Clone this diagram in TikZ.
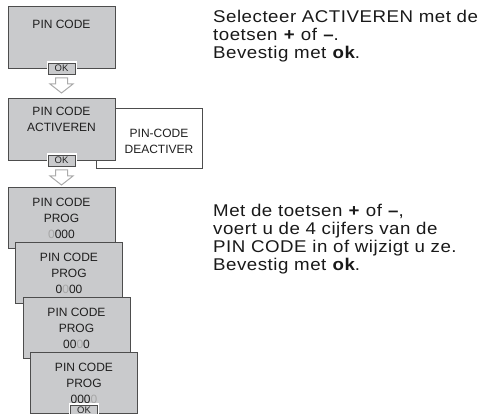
\documentclass[tikz,border=0pt]{standalone}
\usepackage{fontspec}
\setmainfont{Liberation Sans}
\newfontfamily\uitleg[FakeStretch=1.1,LetterSpace=3]{Liberation Sans}
\usepackage{tikz}
\usetikzlibrary{calc}
\definecolor{ekranGri}{HTML}{C9CACC}
\definecolor{kenarGri}{HTML}{4D4D4D}
\definecolor{pijlGri}{HTML}{ABABAB}
\definecolor{cijferGri}{HTML}{A6A6A6}
\tikzset{
  scherm/.style={draw=kenarGri,fill=ekranGri,line width=0.9pt,minimum width=107pt,minimum height=61pt,inner sep=0pt},
  wit/.style={draw=kenarGri,fill=white,line width=0.8pt,minimum width=106pt,minimum height=60pt,inner sep=0pt},
  okknop/.style={draw=kenarGri,fill=ekranGri,line width=0.7pt,minimum width=27pt,minimum height=11pt,inner sep=0pt,
    font=\fontsize{9.5}{10}\selectfont,text=black!85,preaction={draw=white,line width=3pt}},
  tekst/.style={font=\fontsize{12}{16}\selectfont,align=center,anchor=north,inner sep=0pt,text=black!88},
  uitlegtekst/.style={font=\uitleg\fontsize{17}{18}\selectfont,align=left,anchor=north west,inner sep=0pt,text=black!90},
  pijl/.style={draw=pijlGri,fill=white,line width=1pt}
}

\begin{document}
\begin{tikzpicture}[x=1pt,y=-1pt]
\useasboundingbox (0,0) rectangle (482,414);
\clip (0,0) rectangle (482,414);
% eerste scherm
\node[scherm,minimum height=62pt] (b1) at (61.5,37) {};
\node[tekst] (t1) at (61.5,20.4) {PIN CODE};
\node[okknop] (ok1) at (b1.south) {OK};
% keuze activeren / deactiveren
\node[wit] (wb) at (149,138) {};
\node[tekst] (tw) at (159,129.4) {PIN-CODE\\DEACTIVER};
\node[scherm,minimum height=62pt] (b2) at (61.5,129) {};
\node[tekst] (t2) at (61.5,107.4) {PIN CODE\\ACTIVEREN};
\node[okknop] (ok2) at (b2.south) {OK};
\foreach \y in {78,170} \draw[pijl] (55.5,\y) -- (67.5,\y) -- (67.5,{\y+6}) -- (73,{\y+6}) -- (61.5,{\y+15}) -- (50,{\y+6}) -- (55.5,{\y+6}) -- cycle;
% invoer van de cijfers
\foreach \k/\code in {0/{\textcolor{cijferGri}{0}000},1/{0\textcolor{cijferGri}{0}00},2/{00\textcolor{cijferGri}{0}0},3/{000\textcolor{cijferGri}{0}}} {
  \node[scherm] (s\k) at ({61.5+7.5*\k},{217.5+55*\k}) {};
  \node[tekst] (ts\k) at ({61.5+7.5*\k},{198.4+55*\k}) {PIN CODE\\PROG\\\code};
}
\node[okknop] (ok3) at ($(s3.south)+(0,-3)$) {OK};
% uitleg
\node[uitlegtekst] (u1) at (213,9.5) {Selecteer ACTIVEREN met de\\toetsen \textbf{+} of \textbf{–}.\\Bevestig met \textbf{ok}.};
\node[uitlegtekst] (u2) at (213,204) {Met de toetsen \textbf{+} of \textbf{–},\\voert u de 4 cijfers van de\\PIN CODE in of wijzigt u ze.\\Bevestig met \textbf{ok}.};
\end{tikzpicture}
\end{document}
